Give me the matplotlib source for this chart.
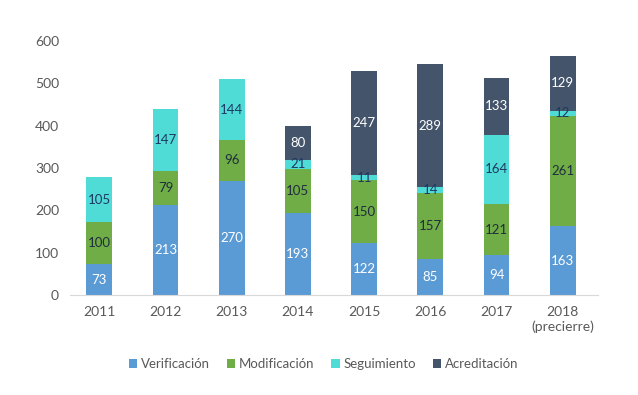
import matplotlib.pyplot as plt
import numpy as np

plt.rcParams['font.family'] = ['Lato', 'DejaVu Sans']

years = ["2011", "2012", "2013", "2014", "2015", "2016", "2017", "2018\n(precierre)"]
verificacion = [73, 213, 270, 193, 122, 85, 94, 163]
modificacion = [100, 79, 96, 105, 150, 157, 121, 261]
seguimiento = [105, 147, 144, 21, 11, 14, 164, 12]
acreditacion = [0, 0, 0, 80, 247, 289, 133, 129]

series = [
    ("Verificación", verificacion, "#5B9BD5", "white"),
    ("Modificación", modificacion, "#70AD47", "#1F2D3D"),
    ("Seguimiento", seguimiento, "#4FDCD6", "#1F3864"),
    ("Acreditación", acreditacion, "#44546A", "white"),
]

fig = plt.figure(figsize=(6.38, 3.95), dpi=100)
ax = fig.add_axes([0.110, 0.253, 0.827, 0.643])

x = np.arange(len(years))
bottom = np.zeros(len(years))
for name, vals, color, tcolor in series:
    vals = np.array(vals, dtype=float)
    ax.bar(x, vals, 0.39, bottom=bottom, color=color, label=name)
    for xi, b, v in zip(x, bottom, vals):
        if v > 0:
            ax.text(xi, b + v / 2, f"{int(v)}", ha="center", va="center",
                    color=tcolor, fontsize=9.5)
    bottom += vals

ax.set_ylim(0, 600)
ax.set_xlim(-0.44, 7.53)
ax.set_yticks(range(0, 601, 100))
ax.set_xticks(x)
ax.set_xticklabels(years)
ax.tick_params(axis="both", length=0, labelsize=10, colors="#595959", pad=8)
for s in ["top", "right", "left"]:
    ax.spines[s].set_visible(False)
ax.spines["bottom"].set_color("#D9D9D9")

ax.legend(loc="upper center", bbox_to_anchor=(0.48, -0.2), ncol=4, frameon=False,
          fontsize=9.5, labelcolor="#595959", handlelength=0.65, handleheight=0.65,
          handletextpad=0.25, columnspacing=1.3)

fig.savefig("out.png", dpi=100)
